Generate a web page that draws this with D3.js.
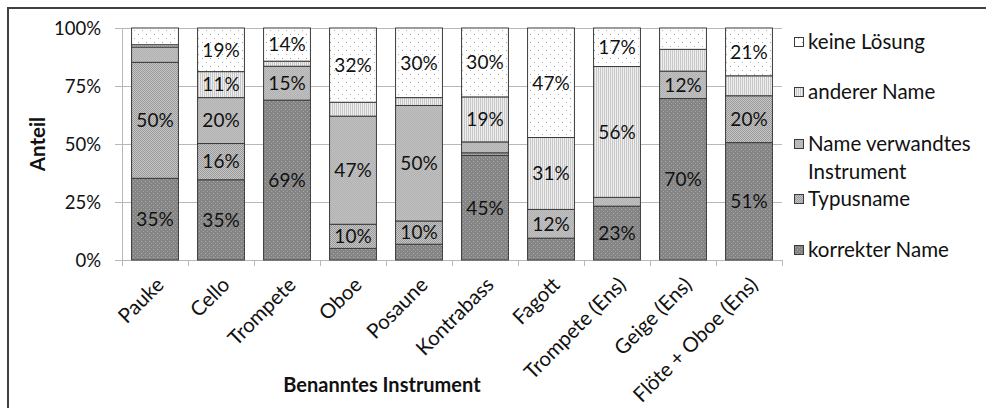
<!DOCTYPE html>
<html><head><meta charset="utf-8">
<script src="https://cdn.jsdelivr.net/npm/d3@7"></script>
<style>body{margin:0;background:#fff}text{font-family:Lato,"Open Sans",sans-serif}</style>
</head><body>
<svg id="c" width="986" height="408"></svg>
<script>
const categories = ["Pauke","Cello","Trompete","Oboe","Posaune","Kontrabass","Fagott","Trompete (Ens)","Geige (Ens)","Flöte + Oboe (Ens)"];
const seriesNames = ["korrekter Name","Typusname","Name verwandtes Instrument","anderer Name","keine Lösung"];
const korrekterName = [35.2,34.6,68.9,5.0,6.8,45.1,9.4,23.2,69.6,50.6];
const typusname     = [50.0,15.6,0,10.4,10.0,1.1,0,0,0,20.2];
const nameVerwandt  = [6.6,19.8,14.6,46.6,49.8,4.7,12.4,3.8,11.8,0];
const andererName   = [1.0,11.2,2.2,6.0,3.4,19.4,31.0,56.4,9.4,8.6];
const keineLoesung  = [7.2,18.8,14.3,32.0,30.0,29.7,47.2,16.6,9.2,20.6];
const yTicks = [0,25,50,75,100];

const seriesValues = [korrekterName,typusname,nameVerwandt,andererName,keineLoesung];
const table = categories.map((c,i)=>{const o={cat:c};seriesNames.forEach((s,j)=>o[s]=seriesValues[j][i]);return o;});

const svg = d3.select("#c");
const defs = svg.append("defs");
function pat(id,w,h,bg,draw){const p=defs.append("pattern").attr("id",id).attr("width",w).attr("height",h).attr("patternUnits","userSpaceOnUse");p.append("rect").attr("width",w).attr("height",h).attr("fill",bg);draw(p);}
pat("p0",4,4,"#858585",p=>{p.append("rect").attr("x",1).attr("y",1).attr("width",1).attr("height",1).attr("fill","#b0b0b0");p.append("rect").attr("x",3).attr("y",3).attr("width",1).attr("height",1).attr("fill","#a4a4a4");});
pat("p1",2,2,"#c6c6c6",p=>{p.append("rect").attr("width",1).attr("height",1).attr("fill","#9a9a9a");p.append("rect").attr("x",1).attr("y",1).attr("width",1).attr("height",1).attr("fill","#9a9a9a");});
pat("p2",2,2,"#c2c2c2",p=>{p.append("rect").attr("width",1).attr("height",1).attr("fill","#b0b0b0");p.append("rect").attr("x",1).attr("y",1).attr("width",1).attr("height",1).attr("fill","#b0b0b0");});
pat("p3",2,2,"#eeeeee",p=>{p.append("rect").attr("width",1).attr("height",2).attr("fill","#c8c8c8");});
pat("p4",8,8,"#ffffff",p=>{p.append("rect").attr("x",2).attr("y",2).attr("width",1).attr("height",1).attr("fill","#a0a0a0");p.append("rect").attr("x",6).attr("y",6).attr("width",1).attr("height",1).attr("fill","#b0b0b0");});
const fills = ["url(#p0)","url(#p1)","url(#p2)","url(#p3)","url(#p4)"];

svg.append("path").attr("d","M8,410 V8 H990").attr("fill","none").attr("stroke","#404040").attr("stroke-width",2);

const x0=122, x1=782, yTop=28, yBot=260;
const x = d3.scaleBand().domain(categories).range([x0,x1]).paddingInner(0.29).paddingOuter(0.145);
const y = d3.scaleLinear().domain([0,100]).range([yBot,yTop]);

svg.append("g").selectAll("line").data(yTicks).join("line")
  .attr("x1",x0-7).attr("x2",x1).attr("y1",d=>Math.round(y(d))+0.5).attr("y2",d=>Math.round(y(d))+0.5)
  .attr("stroke","#b8b8b8").attr("stroke-width",1);
svg.append("line").attr("x1",x0+0.5).attr("x2",x0+0.5).attr("y1",yTop).attr("y2",yBot).attr("stroke","#b8b8b8");
svg.append("g").selectAll("text").data(yTicks).join("text")
  .attr("x",101).attr("y",d=>y(d)).attr("dy","0.36em").attr("text-anchor","end")
  .attr("font-size",18.5).attr("fill","#111").text(d=>d+"%");
const step = x.step();
svg.append("g").selectAll("line").data(d3.range(categories.length+1)).join("line")
  .attr("x1",i=>Math.round(x0+i*step)+0.5).attr("x2",i=>Math.round(x0+i*step)+0.5)
  .attr("y1",yBot).attr("y2",yBot+6).attr("stroke","#b8b8b8");

const stack = d3.stack().keys(seriesNames)(table);
const gBars = svg.append("g");
stack.forEach((layer,j)=>{
  gBars.append("g").selectAll("rect").data(layer).join("rect")
    .attr("x",d=>x(d.data.cat)).attr("width",x.bandwidth())
    .attr("y",d=>y(d[1])).attr("height",d=>y(d[0])-y(d[1]))
    .attr("fill",fills[j]).attr("stroke","#3a3a3a").attr("stroke-width",1);
});
stack.forEach((layer,j)=>{
  gBars.append("g").selectAll("text").data(layer.filter(d=>d[1]-d[0]>=9.5)).join("text")
    .attr("x",d=>x(d.data.cat)+x.bandwidth()/2).attr("y",d=>(y(d[0])+y(d[1]))/2).attr("dy","0.36em")
    .attr("text-anchor","middle").attr("font-size",19).attr("fill","#111")
    .text(d=>Math.round(d[1]-d[0])+"%");
});

svg.append("g").selectAll("text").data(categories).join("text")
  .attr("transform",d=>`translate(${x(d)+x.bandwidth()/2+5},${yBot+21}) rotate(-45)`)
  .attr("text-anchor","end").attr("dy","0.35em").attr("font-size",20.5).attr("fill","#111").text(d=>d);

svg.append("text").attr("x",382).attr("y",392).attr("text-anchor","middle").attr("font-size",20).attr("font-weight","bold").attr("fill","#111").text("Benanntes Instrument");
svg.append("text").attr("transform","translate(45,144) rotate(-90)").attr("text-anchor","middle").attr("font-size",20.5).attr("font-weight","bold").attr("fill","#111").text("Anteil");

const legendY = [250,199,144,92,42];
const lg = svg.append("g");
seriesNames.forEach((s,j)=>{
  lg.append("rect").attr("x",794.5).attr("y",legendY[j]-4.5).attr("width",9).attr("height",9).attr("fill",fills[j]).attr("stroke","#3a3a3a");
  const lines = s==="Name verwandtes Instrument" ? ["Name verwandtes","Instrument"] : [s];
  lines.forEach((t,k)=>lg.append("text").attr("x",808).attr("y",legendY[j]+k*28).attr("dy","0.36em").attr("font-size",20.5).attr("fill","#111").text(t));
});
</script>
</body></html>
